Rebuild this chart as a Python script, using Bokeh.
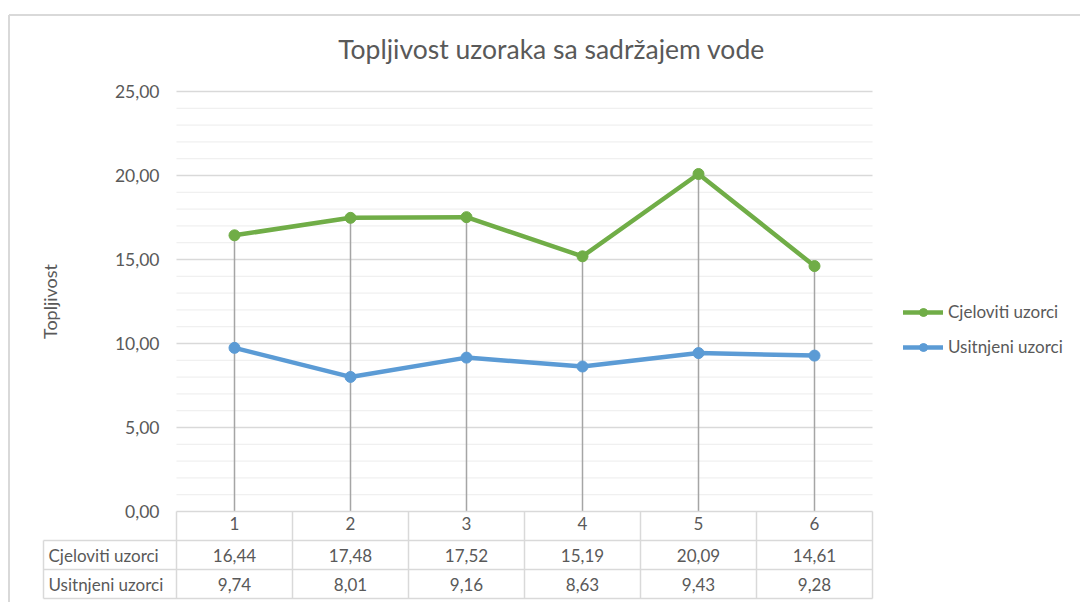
import numpy as np
from bokeh.plotting import figure
from bokeh.models import (Range1d, LinearAxis, FixedTicker, CustomJSTickFormatter,
                          Legend, LegendItem)
from bokeh.core.properties import value
from bokeh.embed import file_html
from bokeh.resources import INLINE

# ---------------- data ----------------
categories = [1, 2, 3, 4, 5, 6]
cjeloviti = [16.44, 17.48, 17.52, 15.19, 20.09, 14.61]
usitnjeni = [9.74, 8.01, 9.16, 8.63, 9.43, 9.28]
series_names = ["Cjeloviti uzorci", "Usitnjeni uzorci"]
y_ticks = [0, 5, 10, 15, 20, 25]
title_text = "Topljivost uzoraka sa sadržajem vode"
y_label = "Topljivost"

# ---------------- style ----------------
GREEN = "#70AD47"
BLUE = "#5B9BD5"
TEXT = "#595959"
FONT = "Lato"
W, H = 1080, 602
OX, OY = 0, 0  # canvas origin in the picture
PX_X = 116.0   # pixels per category
PX_Y = 16.8    # pixels per value unit


def dx(px):
    return 0.5 + (px - 176) / PX_X


def dy(py):
    return (511 - py) / PX_Y


def fmt(v):
    return f"{v:.2f}".replace(".", ",")


p = figure(width=W, height=H, output_backend="svg", toolbar_location=None,
           x_axis_type=None, y_axis_type=None,
           x_range=Range1d(dx(OX), dx(OX + W)), y_range=Range1d(dy(OY + H), dy(OY)),
           min_border=0, outline_line_color=None,
           background_fill_color="white", border_fill_color="white")

# chart area border (left + top visible)
p.segment(x0=[dx(8.5), dx(8.5)], y0=[dy(14.5), dy(14.5)],
          x1=[dx(8.5), dx(1200)], y1=[dy(700), dy(14.5)],
          line_color="#d9d9d9", line_width=2)

# gridlines
levels = list(range(1, 26))
minor = [v for v in levels if v % 5]
major = [v for v in levels if v % 5 == 0]
p.segment(x0=0.5, y0=minor, x1=6.5, y1=minor, line_color="#f0f0f0", line_width=1.3)
p.segment(x0=0.5, y0=major, x1=6.5, y1=major, line_color="#d9d9d9", line_width=1.3)

# drop lines
tops = [max(a, b) for a, b in zip(cjeloviti, usitnjeni)]
p.segment(x0=categories, y0=0, x1=categories, y1=tops, line_color="#a5a5a5", line_width=1.5)

# series
g_line = p.line(categories, cjeloviti, line_color=GREEN, line_width=4.5, line_join="round", line_cap="round")
g_pts = p.scatter(categories, cjeloviti, size=11, fill_color=GREEN, line_color=GREEN)
b_line = p.line(categories, usitnjeni, line_color=BLUE, line_width=4.5, line_join="round", line_cap="round")
b_pts = p.scatter(categories, usitnjeni, size=11, fill_color=BLUE, line_color=BLUE)

# data table lines
TBL = "#d9d9d9"
row_tops = [511, 540, 569, 598]
p.segment(x0=0.5, y0=dy(row_tops[0]), x1=6.5, y1=dy(row_tops[0]), line_color=TBL, line_width=1.5)
p.segment(x0=dx(43), y0=[dy(v) for v in row_tops[1:]], x1=6.5, y1=[dy(v) for v in row_tops[1:]],
          line_color=TBL, line_width=1.5)
bounds = [c - 0.5 for c in categories] + [categories[-1] + 0.5]
p.segment(x0=bounds, y0=dy(row_tops[0]), x1=bounds, y1=dy(row_tops[-1]), line_color=TBL, line_width=1.5)
p.segment(x0=dx(43), y0=dy(row_tops[1]), x1=dx(43), y1=dy(row_tops[-1]), line_color=TBL, line_width=1.5)

row_centers = [(row_tops[1] + row_tops[2]) / 2, (row_tops[2] + row_tops[3]) / 2]
text_kw = dict(text_font=value(FONT), text_font_size="17px", text_color=TEXT, text_baseline="middle")
p.text(x=categories, y=dy(row_centers[0]), text=[fmt(v) for v in cjeloviti], text_align="center", **text_kw)
p.text(x=categories, y=dy(row_centers[1]), text=[fmt(v) for v in usitnjeni], text_align="center", **text_kw)
p.text(x=dx(48), y=[dy(c) for c in row_centers], text=series_names, text_align="left", **text_kw)

# title and y label
p.text(x=dx(551), y=dy(48), text=[title_text], text_align="center", text_baseline="middle",
       text_font=value(FONT), text_font_size="26.5px", text_color=TEXT)
p.text(x=dx(49), y=dy(301), text=[y_label], angle=np.pi / 2, text_align="center",
       text_baseline="middle", text_font=value(FONT), text_font_size="18px", text_color=TEXT)

# axes
yaxis = LinearAxis(fixed_location=0.5, ticker=FixedTicker(ticks=y_ticks, minor_ticks=[]),
                   formatter=CustomJSTickFormatter(code="return tick.toFixed(2).replace('.', ',');"),
                   axis_line_color=None, major_tick_line_color=None, minor_tick_line_color=None,
                   major_tick_out=0, major_tick_in=0, major_label_standoff=17,
                   major_label_text_font=FONT, major_label_text_font_size="17.5px",
                   major_label_text_color=TEXT)
p.add_layout(yaxis, "left")

xaxis = LinearAxis(fixed_location=0, ticker=FixedTicker(ticks=categories, minor_ticks=[]),
                   axis_line_color=None, major_tick_line_color=None, minor_tick_line_color=None,
                   major_tick_out=0, major_tick_in=0, major_label_standoff=5,
                   major_label_text_font=FONT, major_label_text_font_size="17px",
                   major_label_text_color=TEXT)
p.add_layout(xaxis, "below")

# legend
legend = Legend(items=[LegendItem(label=series_names[0], renderers=[g_line, g_pts]),
                       LegendItem(label=series_names[1], renderers=[b_line, b_pts])],
                location=(903 - OX, (OY + H) - 357), orientation="vertical",
                glyph_width=40, glyph_height=20, label_height=20, spacing=14,
                padding=0, margin=0, border_line_color=None, background_fill_alpha=0,
                label_text_font=FONT, label_text_font_size="17px", label_text_color=TEXT,
                label_standoff=5)
p.add_layout(legend)

open("out.html", "w").write(file_html(p, INLINE))
